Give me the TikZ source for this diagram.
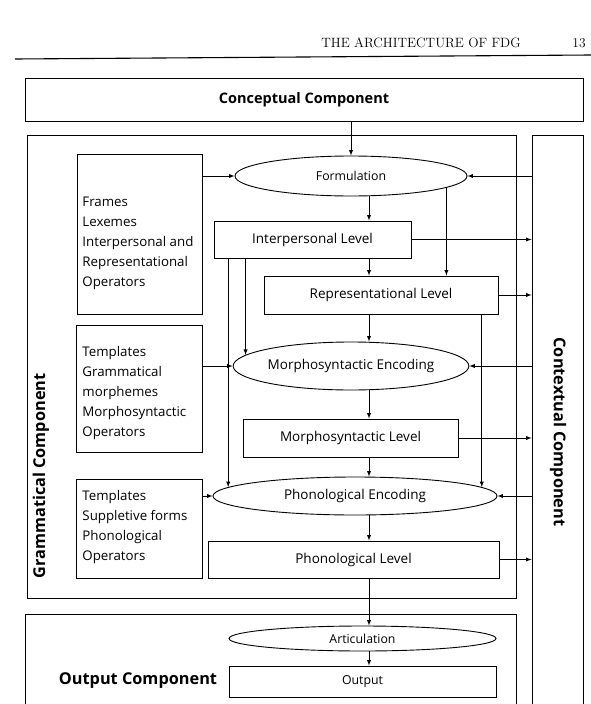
\documentclass[tikz,border=0pt]{standalone}
\usepackage{fontspec}
\setsansfont{Open Sans}
\usetikzlibrary{shapes.geometric}

\begin{document}
\begin{tikzpicture}[x=1pt, y=-1pt, >=latex, line width=0.9pt,
  every node/.style={font=\sffamily\fontsize{13.5}{15}\selectfont},
  box/.style={draw, inner sep=0pt},
  oval/.style={draw, ellipse, inner sep=0pt},
  small/.style={font=\sffamily\fontsize{12.3}{14}\selectfont},
  comp/.style={font=\sffamily\bfseries\fontsize{14.5}{16}\selectfont},
  bigcomp/.style={font=\sffamily\bfseries\fontsize{16.3}{18}\selectfont},
  list/.style={anchor=west, align=left, inner sep=0pt, font=\sffamily\fontsize{13.3}{20}\selectfont}]
\useasboundingbox (0,0) rectangle (591,704);
% running head
\node (head) at (421,43) {\rmfamily\fontsize{13.5}{15}\selectfont THE ARCHITECTURE OF FDG};
\node (page) at (579,43) {\rmfamily\fontsize{13.5}{15}\selectfont 13};
\draw [line width=1.1pt] (15,59) -- (591,55);
% components
\node [box, comp, minimum width=558, minimum height=43] (concept) at (304,99.5) {Conceptual Component};
\node [box, minimum width=489, minimum height=463] (gram) at (271.5,366.5) {};
\node [bigcomp, rotate=90] (gramtxt) at (41,476) {Grammatical Component};
\node [box, minimum width=51, minimum height=580] (ctx) at (557.5,425) {};
\node [bigcomp, rotate=-90] (ctxtxt) at (558,432) {Contextual Component};
\node [box, minimum width=491, minimum height=100] (outc) at (270.5,664) {};
\node [bigcomp] (outtxt) at (138,681) {Output Component};
% stores
\node [box, minimum width=125, minimum height=160] (lexbox) at (139.5,234) {};
\node [list] (lex) at (82,243) {Frames\\Lexemes\\Interpersonal and\\Representational\\Operators};
\node [box, minimum width=126, minimum height=127] (tmpbox) at (139,388.5) {};
\node [list] (tmp) at (82,393) {Templates\\Grammatical\\morphemes\\Morphosyntactic\\Operators};
\node [box, minimum width=126, minimum height=99] (supbox) at (139,528.5) {};
\node [list] (sup) at (82,527.5) {Templates\\Suppletive forms\\Phonological\\Operators};
% operations and levels
\node [oval, small, minimum width=232, minimum height=40] (frm) at (351,176) {Formulation};
\node [box, minimum width=197, minimum height=37] (il) at (312.5,239.5) {Interpersonal Level};
\node [box, minimum width=234, minimum height=38] (rl) at (381,295) {Representational Level};
\node [oval, minimum width=223, minimum height=48] (mse) at (351,366) {Morphosyntactic Encoding};
\node [box, minimum width=215, minimum height=38] (ml) at (350.5,438) {Morphosyntactic Level};
\node [oval, minimum width=284, minimum height=38] (phe) at (355,496) {Phonological Encoding};
\node [box, minimum width=291, minimum height=37] (pl) at (353.5,559.5) {Phonological Level};
\node [oval, small, minimum width=267, minimum height=25] (art) at (362.5,638.5) {Articulation};
\node [box, small, minimum width=267, minimum height=31] (out) at (362.5,681.5) {Output};
\coordinate (sp) at (369,0);
% top-down flow
\draw [->] (concept.south -| frm.north) -- (frm.north);
\draw [->] (frm.south -| sp) -- (il.north -| sp);
\draw [->] (il.south -| sp) -- (rl.north -| sp);
\draw [->] (frm.-7) -- (frm.-7 |- rl.north);
\draw [->] (rl.south -| sp) -- (mse.north -| sp);
\draw [->] (il.south -| mse.174) -- (mse.174);
\draw [->] (il.south -| phe.176) -- (phe.176);
\draw [->] (rl.south -| phe.4) -- (phe.4);
\draw [->] (mse.south -| sp) -- (ml.north -| sp);
\draw [->] (ml.south -| sp) -- (phe.north -| sp);
\draw [->] (phe.south -| sp) -- (pl.north -| sp);
\draw [->] (pl.south -| sp) -- (art.north -| sp);
\draw [->] (art.south -| sp) -- (out.north -| sp);
% stores feed the encodings
\draw [->] (lexbox.east |- frm.west) -- (frm.west);
\draw [->] (tmpbox.east |- mse.west) -- (mse.west);
\draw [->] (supbox.east |- phe.west) -- (phe.west);
% context
\draw [->] (ctx.west |- frm.east) -- (frm.east);
\draw [->] (ctx.west |- mse.east) -- (mse.east);
\draw [->] (ctx.west |- phe.east) -- (phe.east);
\draw [->] (il.east) -- (il.east -| ctx.west);
\draw [->] (rl.east) -- (rl.east -| ctx.west);
\draw [->] (ml.east) -- (ml.east -| ctx.west);
\draw [->] (pl.east) -- (pl.east -| ctx.west);
\end{tikzpicture}
\end{document}
